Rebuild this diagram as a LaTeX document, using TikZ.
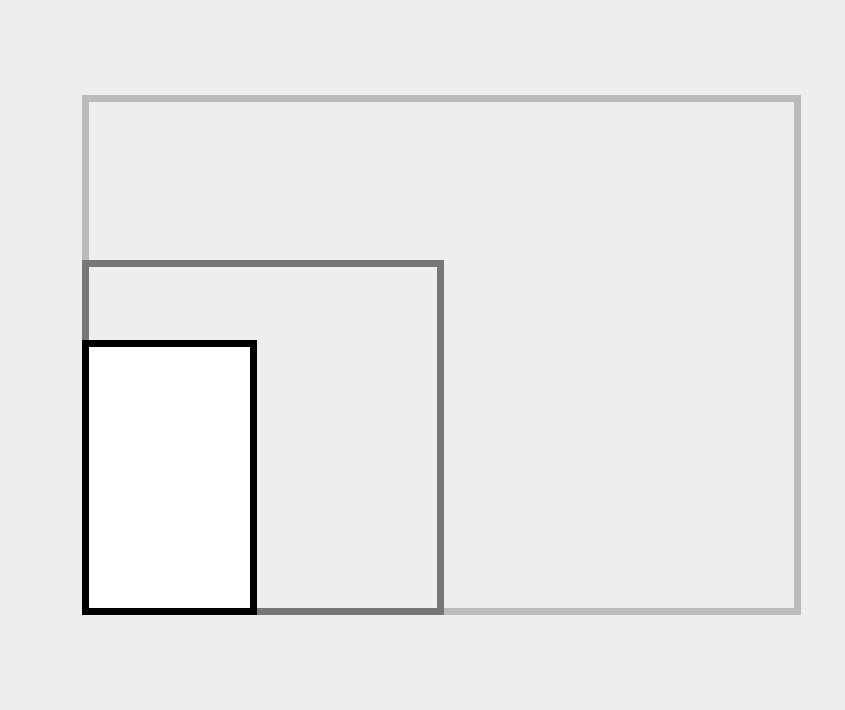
\documentclass[tikz,border=0pt]{standalone}
\usepackage{xcolor}
\usepackage{tikz}

\definecolor{bgfill}{HTML}{EEEEEE}
\definecolor{outerline}{HTML}{BBBBBB}
\definecolor{midline}{HTML}{777777}

\begin{document}
\begin{tikzpicture}[
  x=0.01cm, y=-0.01cm,
  frame/.style={line width=0.07cm, line join=miter}
]
\fill[bgfill] (0,0) rectangle (845,710);
\useasboundingbox (0,0) rectangle (845,710);
\draw[frame, outerline] (85.5,98.5) rectangle (797.5,611.5);
\draw[frame, midline] (85.5,263.5) rectangle (440,611.5);
\draw[frame, black, fill=white] (85.5,343.5) rectangle (253.5,611.5);
\end{tikzpicture}
\end{document}
